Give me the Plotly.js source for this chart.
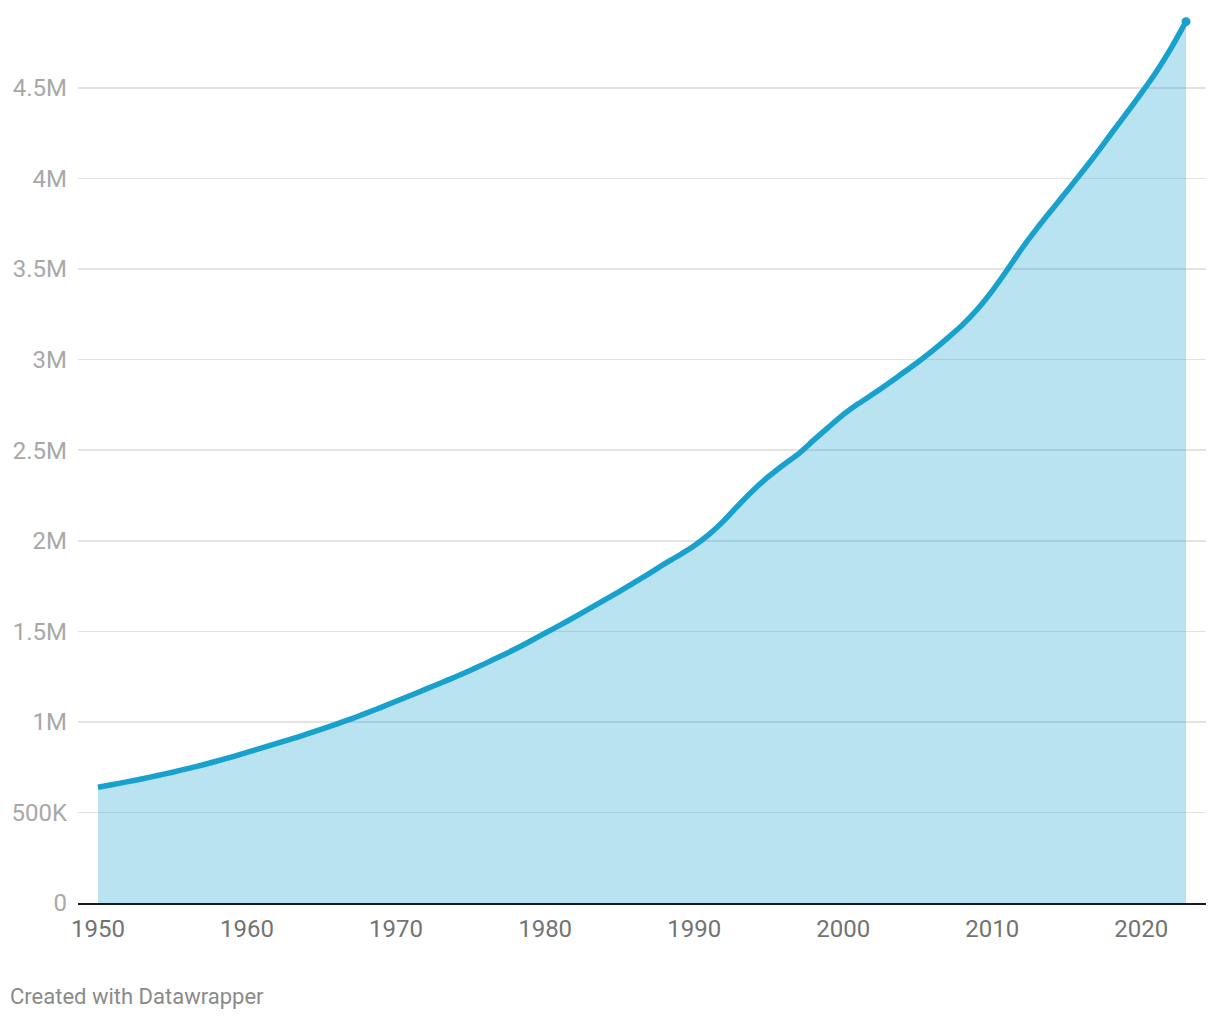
<!DOCTYPE html>
<html>
<head>
<meta charset="utf-8">
<script src="https://cdn.plot.ly/plotly-3.0.1.min.js"></script>
<style>
  html, body { margin: 0; padding: 0; background: #ffffff; }
  #chart { width: 1220px; height: 1020px; }
</style>
</head>
<body>
<div id="chart"></div>
<script>
// ---- Data ----
const years = [
  1950,1951,1952,1953,1954,1955,1956,1957,1958,1959,
  1960,1961,1962,1963,1964,1965,1966,1967,1968,1969,
  1970,1971,1972,1973,1974,1975,1976,1977,1978,1979,
  1980,1981,1982,1983,1984,1985,1986,1987,1988,1989,
  1990,1991,1992,1993,1994,1995,1996,1997,1998,1999,
  2000,2001,2002,2003,2004,2005,2006,2007,2008,2009,
  2010,2011,2012,2013,2014,2015,2016,2017,2018,2019,
  2020,2021,2022,2023
];
const values = [
  639000,654000,670000,686000,704000,722000,742000,762000,784000,807000,
  832000,856000,881000,906000,932000,960000,988000,1017000,1048000,1080000,
  1114000,1147000,1181000,1215000,1249000,1285000,1323000,1362000,1402000,1445000,
  1490000,1534000,1580000,1627000,1674000,1721000,1770000,1820000,1872000,1920000,
  1972000,2035000,2111000,2199000,2282000,2355000,2420000,2480000,2554000,2626000,
  2696000,2756000,2810000,2867000,2926000,2986000,3050000,3119000,3192000,3278000,
  3380000,3495000,3615000,3725000,3828000,3930000,4033000,4139000,4250000,4360000,
  4471000,4588000,4720000,4866000
];
const xTickVals = [1950,1960,1970,1980,1990,2000,2010,2020];
const xTickText = ["1950","1960","1970","1980","1990","2000","2010","2020"];
const yTickVals = [0,500000,1000000,1500000,2000000,2500000,3000000,3500000,4000000,4500000];
const yTickText = ["0","500K","1M","1.5M","2M","2.5M","3M","3.5M","4M","4.5M"];
const footerText = "Created with Datawrapper";

// ---- Styling ----
const lineColor = "#18a1cd";
const fillColor = "rgba(24,161,205,0.3)";
const FONT = "Roboto, 'Open Sans', sans-serif";

const W = 1220, H = 1020;
const plotLeft = 78, plotRight = 1206, plotTop = 10, plotBottom = 903.5;
const pxPerYear = 14.904;
const pad = 20;
const xRange = [years[0] - pad / pxPerYear, years[years.length - 1] + pad / pxPerYear];
const pxPerUnit = 181.22 / 1000000;
const yRange = [0, (plotBottom - plotTop) / pxPerUnit];

const traces = [
  {
    type: "scatter",
    mode: "lines",
    x: years,
    y: values,
    fill: "tozeroy",
    fillcolor: fillColor,
    line: { color: lineColor, width: 5.5, shape: "spline", smoothing: 0.6 },
    hoverinfo: "x+y",
    showlegend: false
  },
  {
    type: "scatter",
    mode: "markers",
    x: [years[years.length - 1]],
    y: [values[values.length - 1]],
    marker: { color: lineColor, size: 9 },
    hoverinfo: "skip",
    showlegend: false
  }
];

const plotW = plotRight - plotLeft;
const plotH = plotBottom - plotTop;

const layout = {
  width: W,
  height: H,
  paper_bgcolor: "#ffffff",
  plot_bgcolor: "#ffffff",
  margin: { l: plotLeft, r: W - plotRight, t: plotTop, b: H - plotBottom, pad: 0 },
  font: { family: FONT, size: 24, color: "#777777" },
  xaxis: {
    range: xRange,
    tickvals: xTickVals,
    ticktext: xTickText,
    showgrid: false,
    zeroline: false,
    showline: true,
    linecolor: "#1a1a1a",
    linewidth: 2,
    ticks: "",
    ticklabelstandoff: 3,
    tickfont: { family: FONT, size: 24, color: "#737373" },
    fixedrange: true
  },
  yaxis: {
    range: yRange,
    tickvals: yTickVals,
    ticktext: yTickText,
    showgrid: true,
    gridcolor: "#e3e3e3",
    gridwidth: 1.5,
    zeroline: false,
    showline: false,
    ticks: "",
    ticklabelstandoff: 10,
    tickfont: { family: FONT, size: 24, color: "#a8a8a8" },
    fixedrange: true
  },
  annotations: [
    {
      text: footerText,
      xref: "paper",
      yref: "paper",
      x: (8 - plotLeft) / plotW,
      y: (plotBottom - 997) / plotH,
      xanchor: "left",
      yanchor: "middle",
      showarrow: false,
      font: { family: FONT, size: 22, color: "#8a8a8a" }
    }
  ]
};

Plotly.newPlot("chart", traces, layout, { displayModeBar: false, staticPlot: true });
</script>
</body>
</html>
